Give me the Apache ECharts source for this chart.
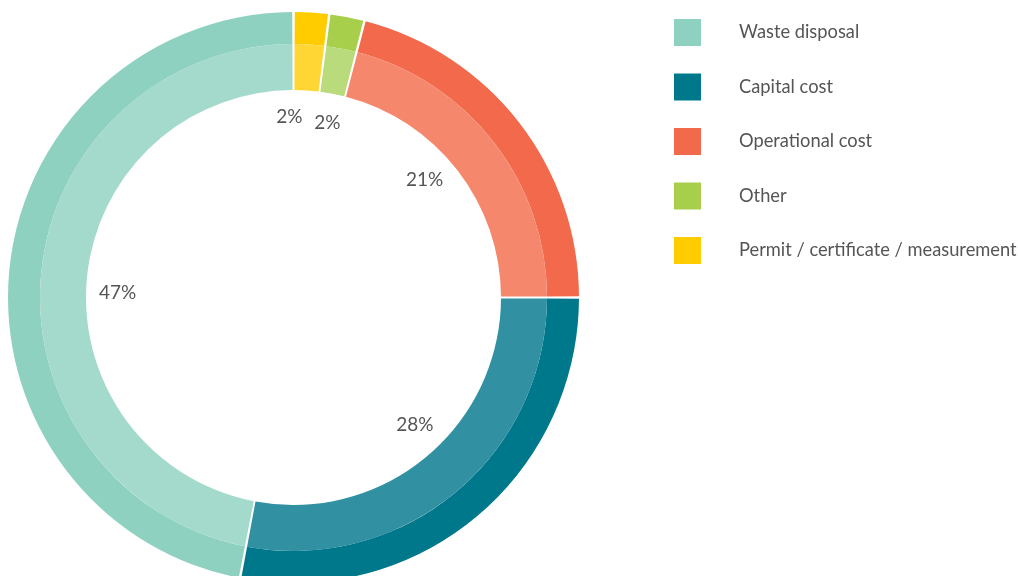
<!DOCTYPE html>
<html>
<head>
<meta charset="utf-8">
<script src="https://cdn.jsdelivr.net/npm/echarts@6/dist/echarts.min.js"></script>
<style>
  html, body { margin: 0; padding: 0; background: #fff; }
  #chart { width: 1018px; height: 576px; }
</style>
</head>
<body>
<div id="chart"></div>
<script>
// data
const categories = ['Waste disposal', 'Capital cost', 'Operational cost', 'Other', 'Permit / certificate / measurement']
const shares = [47, 28, 21, 2, 2]
const outerColors = ['#8FD1C0', '#00788C', '#F26A4B', '#A8CF4C', '#FFCC00']
const innerColors = ['#A4DACB', '#3191A2', '#F5876D', '#BADB7C', '#FFD633']

const center = [293.5, 297.5]

function pieData (colors) {
  return categories.map((name, i) => ({
    name: name,
    value: shares[i],
    itemStyle: { color: colors[i] }
  }))
}

// small nudges so the two tiny slices' labels don't collide
const labelNudge = {
  'Other': [13, 0],
  'Permit / certificate / measurement': [-3, -5]
}

const chart = echarts.init(document.getElementById('chart'))
chart.setOption({
  animation: false,
  legend: {
    orient: 'vertical',
    left: 674,
    top: 19,
    padding: 0,
    icon: 'rect',
    itemWidth: 27,
    itemHeight: 27,
    itemGap: 27.5,
    selectedMode: false,
    data: categories,
    textStyle: {
      fontFamily: 'Lato',
      fontSize: 18.3,
      color: '#555',
      padding: [0, 0, 0, 33]
    }
  },
  series: [
    {
      type: 'pie',
      center: center,
      radius: [253.5, 285.5],
      startAngle: 90,
      clockwise: false,
      silent: true,
      label: { show: false },
      labelLine: { show: false },
      padAngle: 0.5,
      data: pieData(outerColors)
    },
    {
      type: 'pie',
      center: center,
      radius: [207.5, 253.5],
      startAngle: 90,
      clockwise: false,
      silent: true,
      label: { show: false },
      labelLine: { show: false },
      padAngle: 0.5,
      data: pieData(innerColors)
    },
    {
      // invisible ring that only carries the percentage labels
      type: 'pie',
      center: center,
      radius: [140, 206],
      startAngle: 94,
      clockwise: false,
      silent: true,
      avoidLabelOverlap: false,
      labelLayout: { hideOverlap: false },
      itemStyle: { color: 'rgba(0,0,0,0)' },
      label: {
        show: true,
        position: 'inside',
        formatter: '{c}%',
        fontFamily: 'Lato',
        fontSize: 19,
        color: '#555'
      },
      labelLine: { show: false },
      data: categories.map((name, i) => ({
        name: name,
        value: shares[i],
        label: labelNudge[name] ? { offset: labelNudge[name] } : undefined
      }))
    }
  ]
})
</script>
</body>
</html>
